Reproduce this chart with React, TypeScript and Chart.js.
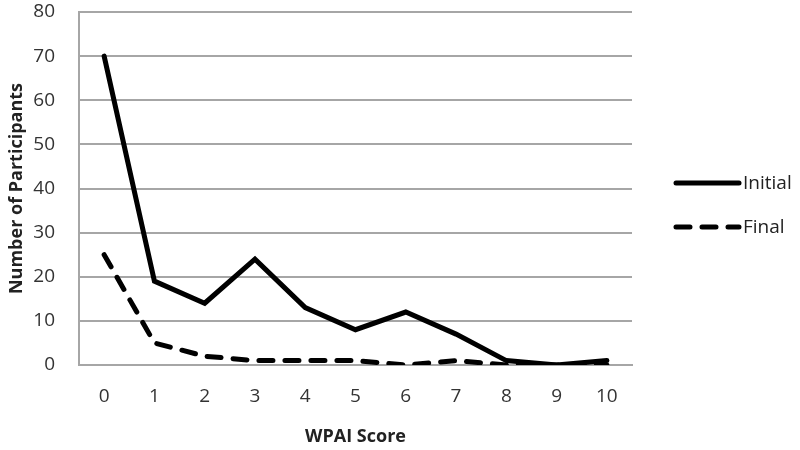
import React, { useEffect, useRef } from "react";
import { Chart, registerables } from "chart.js";

Chart.register(...registerables);

const categories = ["0", "1", "2", "3", "4", "5", "6", "7", "8", "9", "10"];
const initialValues = [70, 19, 14, 24, 13, 8, 12, 7, 1, 0, 1];
const finalValues = [25, 5, 2, 1, 1, 1, 0, 1, 0, 0, 0];
const seriesNames = ["Initial", "Final"];
const yTitle = "Number of Participants";
const xTitle = "WPAI Score";

const FONT = "'Open Sans', 'Liberation Sans', sans-serif";

const legendPlugin = {
  id: "customLegend",
  afterDraw(chart: any) {
    const ctx = chart.ctx;
    const ds = chart.data.datasets;
    const rows = [183, 227];
    ctx.save();
    ds.forEach((d: any, i: number) => {
      const y = rows[i];
      ctx.beginPath();
      ctx.lineWidth = 5;
      ctx.strokeStyle = "#000";
      ctx.lineCap = "round";
      ctx.setLineDash(d.borderDash || []);
      ctx.moveTo(676, y);
      ctx.lineTo(739, y);
      ctx.stroke();
      ctx.setLineDash([]);
      ctx.fillStyle = "#222";
      ctx.font = `19px ${FONT}`;
      ctx.textAlign = "left";
      ctx.textBaseline = "middle";
      ctx.fillText(d.label, 743, y + 1);
    });
    ctx.restore();
  },
};

export default function App() {
  const ref = useRef<HTMLCanvasElement | null>(null);
  useEffect(() => {
    if (!ref.current) return;
    const chart = new Chart(ref.current, {
      type: "line",
      data: {
        labels: categories,
        datasets: [
          {
            label: seriesNames[0],
            data: initialValues,
            borderColor: "#000",
            borderWidth: 5,
            pointRadius: 0,
            borderCapStyle: "round",
            borderJoinStyle: "miter",
            tension: 0,
          },
          {
            label: seriesNames[1],
            data: finalValues,
            borderColor: "#000",
            borderWidth: 5,
            borderDash: [14, 12],
            borderCapStyle: "round",
            pointRadius: 0,
            tension: 0,
          },
        ],
      },
      options: {
        animation: false,
        responsive: false,
        layout: { padding: { left: 0, right: 168, top: 12, bottom: 0 } },
        plugins: { legend: { display: false }, tooltip: { enabled: false } },
        scales: {
          x: {
            offset: true,
            grid: { display: false, drawTicks: false },
            border: { color: "#a6a6a6", width: 2 },
            ticks: { color: "#333", font: { family: FONT, size: 19 }, padding: 20 },
            title: {
              display: true,
              text: xTitle,
              color: "#222",
              font: { family: FONT, size: 18, weight: "bold" },
              padding: { top: 4, bottom: 2 },
            },
            afterFit(scale: any) {
              scale.height = 85;
              scale.paddingLeft = 0;
              scale.paddingRight = 0;
            },
          },
          y: {
            min: 0,
            max: 80,
            ticks: { stepSize: 10, color: "#333", font: { family: FONT, size: 19 }, padding: 24 },
            grid: { color: "#a6a6a6", lineWidth: 2, drawTicks: false },
            border: { color: "#a6a6a6", width: 2 },
            title: {
              display: true,
              text: yTitle,
              color: "#222",
              font: { family: FONT, size: 18, weight: "bold" },
              padding: { top: 6, bottom: 0 },
            },
            afterFit(scale: any) {
              scale.width = 79;
              scale.paddingTop = 0;
              scale.paddingBottom = 0;
            },
          },
        },
      },
      plugins: [legendPlugin],
    });
    return () => chart.destroy();
  }, []);
  return (
    <div style={{ position: "fixed", left: 0, top: 0, width: 800, height: 450, background: "#fff" }}>
      <canvas ref={ref} width={800} height={450} />
    </div>
  );
}
